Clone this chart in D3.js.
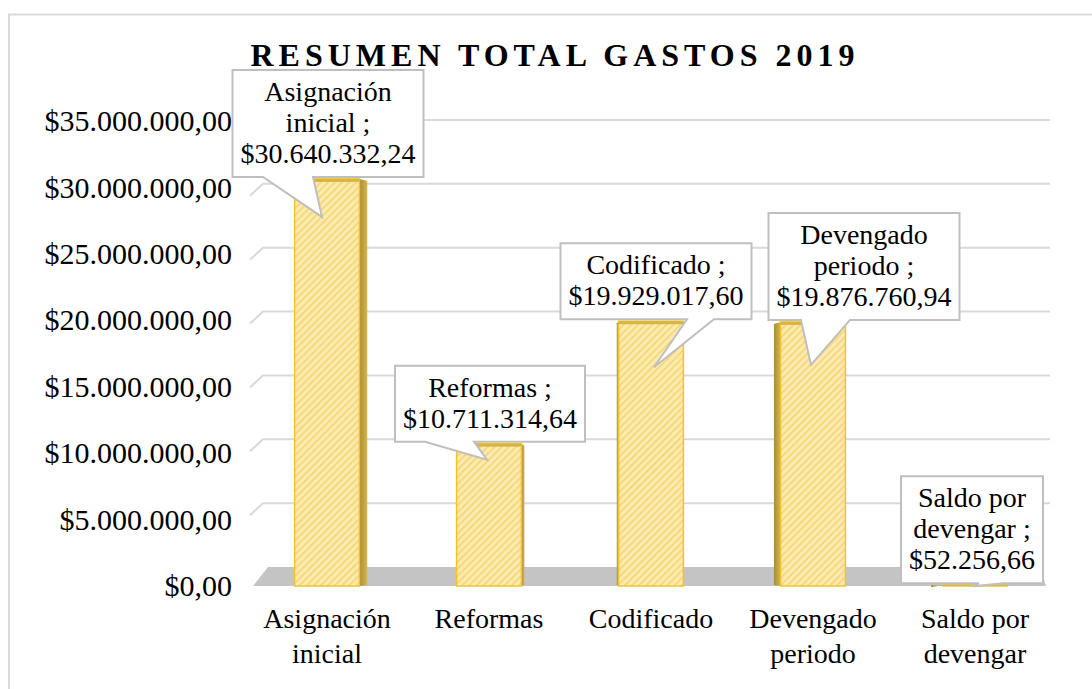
<!DOCTYPE html>
<html><head><meta charset="utf-8">
<script src="https://cdn.jsdelivr.net/npm/d3@7"></script>
<style>
html,body{margin:0;padding:0;background:#fff;}
text{font-family:"Liberation Serif","Times New Roman",serif;fill:#000;}
</style></head>
<body><svg id="c" width="1092" height="689"></svg>
<script>
const title = "RESUMEN TOTAL GASTOS 2019";
const categories = ["Asignación inicial","Reformas","Codificado","Devengado periodo","Saldo por devengar"];
const categoryLines = [["Asignación","inicial"],["Reformas"],["Codificado"],["Devengado","periodo"],["Saldo por","devengar"]];
const values = [30640332.24, 10711314.64, 19929017.60, 19876760.94, 52256.66];
const yTicks = [0,5000000,10000000,15000000,20000000,25000000,30000000,35000000];

// label layout (offsets relative to bar centre / top)
const calloutLayout = [
  {dx:1,  tipDx:-5, tipDy:38, b0:-59, b1:-9},
  {dx:1,  tipDx:-2, tipDy:16, b0:-62, b1:-13},
  {dx:5,  tipDx:3,  tipDy:46, b0:33,  b1:60},
  {dx:51, tipDx:-2, tipDy:43, b0:-10, b1:39},
  {dx:-3, tipDx:-2, tipDy:1,  b0:6,   b1:30}
];

const svg = d3.select("#c");
const loc = d3.formatLocale({decimal:",", thousands:".", grouping:[3], currency:["$",""]});
const fmt = loc.format("$,.2f");

const x = d3.scaleBand().domain(categories).range([246,1056]).paddingInner(0.6).paddingOuter(0.3);
const yFront = d3.scaleLinear().domain([0,35000000]).range([586,121]);
const yBack = d3.scaleLinear().domain([0,35000000]).range([567,120]);

// outer border
svg.append("rect").attr("x",9).attr("y",14.5).attr("width",1100).attr("height",700)
  .attr("fill","none").attr("stroke","#d9d9d9").attr("stroke-width",2);

// defs
const defs = svg.append("defs");
const pat = defs.append("pattern").attr("id","hatch").attr("patternUnits","userSpaceOnUse")
  .attr("width",5).attr("height",5).attr("patternTransform","rotate(45)");
pat.append("rect").attr("width",5).attr("height",5).attr("fill","#fdeab0");
pat.append("rect").attr("width",1.5).attr("height",5).attr("fill","#f3d46a");
const sideGrad = defs.append("linearGradient").attr("id","side").attr("x1","0").attr("x2","1");
sideGrad.append("stop").attr("offset","0").attr("stop-color","#a88c38");
sideGrad.append("stop").attr("offset","1").attr("stop-color","#d6b650");

// gridlines (back wall)
const gx0 = 250, gx1 = 263, gx2 = 1050;
svg.append("g").selectAll("path").data(yTicks.filter(d=>d>0)).join("path")
  .attr("d", d => `M${gx0},${yBack(d)+12}L${gx1},${yBack(d)}L${gx2},${yBack(d)}`)
  .attr("fill","none").attr("stroke","#d9d9d9").attr("stroke-width",2);

// floor
svg.append("path")
  .attr("d", `M253,${yFront(0)}L268,${yBack(0)}L1040,${yBack(0)}L1046,${yFront(0)}Z`)
  .attr("fill","#c4c4c4");

// y axis labels
const yAxis = d3.axisLeft(yFront).tickValues(yTicks).tickFormat(fmt).tickSize(0).tickPadding(0);
const ya = svg.append("g").attr("transform","translate(232,0)").call(yAxis);
ya.select(".domain").remove();
ya.selectAll("text").attr("font-size",30).attr("font-family","Liberation Serif, Times New Roman, serif").attr("fill","#000");

// bars
const vp = 590, k = 0.03;
const bars = svg.append("g").selectAll("g").data(values).join("g");
bars.each(function(v,i){
  const g = d3.select(this);
  const x0 = x(categories[i]), bw = x.bandwidth(), cx = x0 + bw/2;
  const top = yFront(v), bot = yFront(0);
  const sw = (vp - cx) * k;
  if (sw > 0) {
    g.append("path").attr("d",`M${x0+bw},${top}L${x0+bw+sw},${top+2}L${x0+bw+sw},${bot-1}L${x0+bw},${bot}Z`)
      .attr("fill","url(#side)");
  } else {
    g.append("path").attr("d",`M${x0},${top}L${x0+sw},${top+2}L${x0+sw},${bot-1}L${x0},${bot}Z`)
      .attr("fill","url(#side)");
  }
  g.append("rect").attr("x",x0).attr("y",top).attr("width",bw).attr("height",bot-top)
    .attr("fill","url(#hatch)").attr("stroke","#f0c52a").attr("stroke-width",1.5);
  g.append("rect").attr("x",x0).attr("y",top).attr("width",bw).attr("height",Math.min(3,bot-top))
    .attr("fill","#d8b440");
});

// category labels
const cat = svg.append("g");
categoryLines.forEach((lines,i)=>{
  const cx = x(categories[i]) + x.bandwidth()/2;
  const t = cat.append("text").attr("text-anchor","middle").attr("font-size",28);
  lines.forEach((l,j)=> t.append("tspan").attr("x",cx).attr("y",628 + j*35).text(l));
});

// callouts
const cg = svg.append("g");
values.forEach((v,i)=>{
  const L = calloutLayout[i];
  const cx = x(categories[i]) + x.bandwidth()/2;
  const lines = categoryLines[i].slice();
  lines[lines.length-1] = lines[lines.length-1] + " ;";
  lines.push(fmt(v));
  const g = cg.append("g");
  const path = g.append("path");
  const t = g.append("text").attr("text-anchor","middle").attr("font-size",28);
  const bx = cx + L.dx;
  const bottom = yFront(v) - 2;
  const h = lines.length*31 + 14;
  const topY = bottom - h;
  lines.forEach((l,j)=> t.append("tspan").attr("x",bx).attr("y",topY + 31 + j*31).text(l));
  let w = 0;
  t.selectAll("tspan").each(function(){ w = Math.max(w, this.getComputedTextLength()); });
  w += 16;
  const l = bx - w/2, r = bx + w/2;
  const tx = cx + L.tipDx, ty = yFront(v) + L.tipDy;
  const p0 = tx + L.b0, p1 = tx + L.b1;
  path.attr("d",`M${l},${topY}L${r},${topY}L${r},${bottom}L${p1},${bottom}L${tx},${ty}L${p0},${bottom}L${l},${bottom}Z`)
    .attr("fill","#fff").attr("stroke","#bfbfbf").attr("stroke-width",2);
});

// title
svg.append("text").attr("x",555).attr("y",66).attr("text-anchor","middle")
  .attr("font-size",32).attr("font-weight","bold").attr("letter-spacing",5).text(title);
</script></body></html>
